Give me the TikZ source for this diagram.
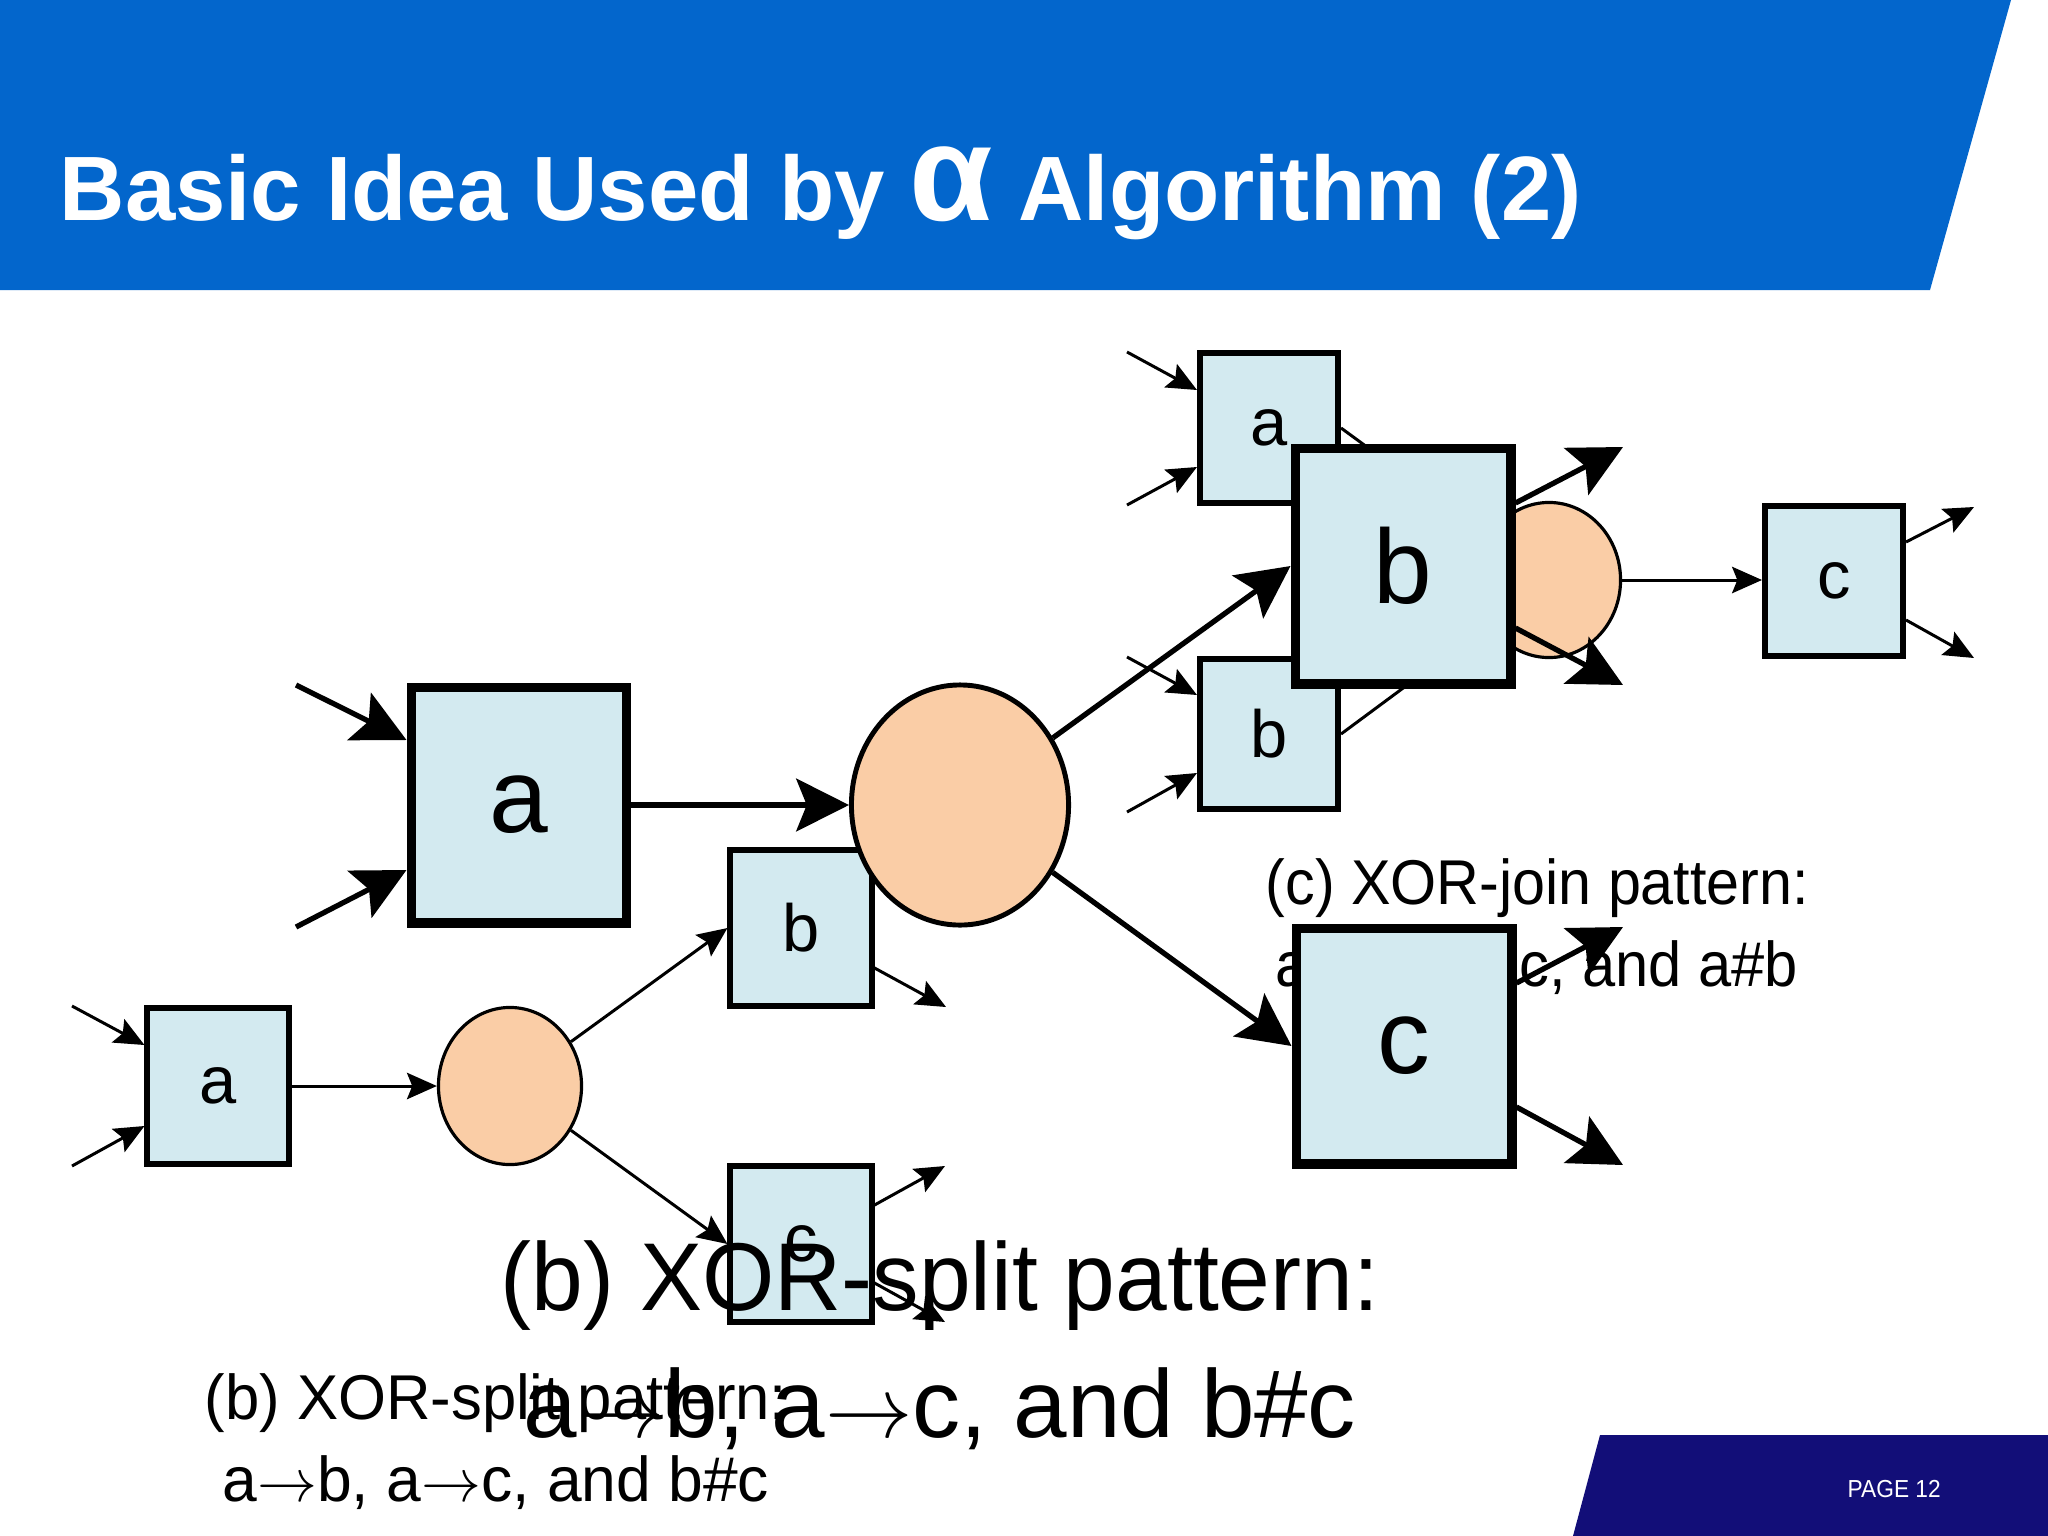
\documentclass[tikz,border=0pt]{standalone}
\usepackage{fontspec}
\setmainfont{Liberation Sans}
\usepackage{graphicx}
\usetikzlibrary{arrows.meta,shapes.geometric}

\definecolor{titleblue}{RGB}{3,102,204}
\definecolor{footnavy}{RGB}{18,14,120}
\definecolor{actfill}{RGB}{211,234,240}
\definecolor{placefill}{RGB}{250,205,166}

\newcommand{\ra}{\ensuremath{\rightarrow}}

\tikzset{
	act/.style={draw, fill=actfill, line width=1.7pt, inner sep=0pt, font=\fontsize{19}{19}\selectfont},
	smallact/.style={act, minimum width=1.41cm, minimum height=1.55cm},
	joinact/.style={act, minimum width=1.38cm, minimum height=1.49cm},
	bigact/.style={act, line width=2.8pt, minimum width=2.15cm, minimum height=2.35cm, font=\fontsize{30}{30}\selectfont},
	place/.style={ellipse, draw, fill=placefill, line width=0.9pt, inner sep=0pt},
	bigplace/.style={place, line width=1.4pt},
	arr/.style={-{Stealth[length=8.5pt, width=7.5pt, inset=1.5pt]}, line width=0.85pt},
	bigarr/.style={-{Stealth[length=15pt, width=15pt, inset=3pt]}, line width=1.5pt},
	caption/.style={anchor=base west, inner sep=0pt}
}

\begin{document}
\begin{tikzpicture}[x=0.01cm, y=-0.01cm]
	\useasboundingbox (0,0) rectangle (2048,1536);
	\fill[white] (0,0) rectangle (2048,1536);
	
	% Pasek tytulowy i stopka
	\fill[titleblue] (0,0) -- (2011,0) -- (1930,290) -- (0,290) -- cycle;
	\fill[footnavy] (1600,1435) -- (2048,1435) -- (2048,1536) -- (1573,1536) -- cycle;
	\node[caption, text=white] (title) at (59,220) {\resizebox{15.21cm}{\height}{\fontsize{26}{26}\selectfont\bfseries Basic Idea Used by {\fontsize{39}{39}\selectfont α} Algorithm (2)}};
	\node[caption, text=white] (page) at (1847,1497) {\resizebox{0.93cm}{\height}{\fontsize{7}{7}\selectfont PAGE 12}};
	
	% Wolne konce strzalek
	\coordinate (sa-in1) at (72,1006);
	\coordinate (sa-in2) at (72,1166);
	\coordinate (sb-out) at (946,1007);
	\coordinate (sc-out1) at (945,1166);
	\coordinate (sc-out2) at (945,1322);
	\coordinate (ja-in1) at (1127,352);
	\coordinate (ja-in2) at (1127,505);
	\coordinate (jb-in1) at (1127,657);
	\coordinate (jb-in2) at (1127,812);
	\coordinate (jc-out1) at (1974,507);
	\coordinate (jc-out2) at (1974,658);
	\coordinate (ba-in1) at (296,685);
	\coordinate (ba-in2) at (296,927);
	\coordinate (bb-out1) at (1623,447);
	\coordinate (bb-out2) at (1623,685);
	\coordinate (bc-out1) at (1623,927);
	\coordinate (bc-out2) at (1623,1165);
	
	% XOR-split (maly)
	\node[smallact] (sa) at (218,1086) {a};
	\node[place, minimum width=1.43cm, minimum height=1.57cm] (sp) at (510,1086) {};
	\node[smallact] (sb) at (801,928) {b};
	\node[smallact] (sc) at (801,1244) {c};
	\draw[arr] (sa-in1) -- (sa.west |- 0,1045);
	\draw[arr] (sa-in2) -- (sa.west |- 0,1126);
	\draw[arr] (sa) -- (sp);
	\draw[arr] (sp) -- (sb.west);
	\draw[arr] (sp) -- (sc.west);
	\draw[arr] (sb.east |- 0,968) -- (sb-out);
	\draw[arr] (sc.east |- 0,1205) -- (sc-out1);
	\draw[arr] (sc.east |- 0,1283) -- (sc-out2);
	\node[caption] (scap1) at (204,1419) {\resizebox{5.82cm}{\height}{\fontsize{18}{18}\selectfont (b) XOR-split pattern:}};
	\node[caption] (scap2) at (222,1501) {\resizebox{5.46cm}{\height}{\fontsize{18}{18}\selectfont a\ra b, a\ra c, and b\#c}};
	
	% XOR-join
	\node[joinact] (ja) at (1269,428) {a};
	\node[joinact] (jb) at (1269,734) {b};
	\node[place, minimum width=1.43cm, minimum height=1.55cm] (jp) at (1549,580) {};
	\node[joinact] (jc) at (1834,581) {c};
	\draw[arr] (ja-in1) -- (ja.west |- 0,390);
	\draw[arr] (ja-in2) -- (ja.west |- 0,467);
	\draw[arr] (jb-in1) -- (jb.west |- 0,695);
	\draw[arr] (jb-in2) -- (jb.west |- 0,773);
	\draw[arr] (ja.east) -- (jp);
	\draw[arr] (jb.east) -- (jp);
	\draw[arr] (jp) -- (jc.west |- 0,580);
	\draw[arr] (jc.east |- 0,542) -- (jc-out1);
	\draw[arr] (jc.east |- 0,620) -- (jc-out2);
	\node[caption] (jcap1) at (1265,904) {\resizebox{5.43cm}{\height}{\fontsize{18}{18}\selectfont (c) XOR-join pattern:}};
	\node[caption] (jcap2) at (1275,986) {\resizebox{5.22cm}{\height}{\fontsize{18}{18}\selectfont a\ra c, b\ra c, and a\#b}};
	
	% XOR-split (duzy)
	\node[bigact] (ba) at (519,805) {a};
	\node[bigplace, minimum width=2.17cm, minimum height=2.40cm] (bp) at (960,805) {};
	\node[bigact] (bb) at (1403,566) {b};
	\node[bigact] (bc) at (1404,1046) {c};
	\draw[bigarr] (ba-in1) -- (ba.west |- 0,740);
	\draw[bigarr] (ba-in2) -- (ba.west |- 0,870);
	\draw[bigarr] (ba) -- (bp);
	\draw[bigarr] (bp) -- (bb.west);
	\draw[bigarr] (bp) -- (bc.west);
	\draw[bigarr] (bb.east |- 0,503) -- (bb-out1);
	\draw[bigarr] (bb.east |- 0,628) -- (bb-out2);
	\draw[bigarr] (bc.east |- 0,983) -- (bc-out1);
	\draw[bigarr] (bc.east |- 0,1107) -- (bc-out2);
	\node[caption] (bcap1) at (500,1310) {\resizebox{8.78cm}{\height}{\fontsize{27.4}{27.4}\selectfont (b) XOR-split pattern:}};
	\node[caption] (bcap2) at (523,1437) {\resizebox{8.32cm}{\height}{\fontsize{27.4}{27.4}\selectfont a\ra b, a\ra c, and b\#c}};
\end{tikzpicture}
\end{document}
